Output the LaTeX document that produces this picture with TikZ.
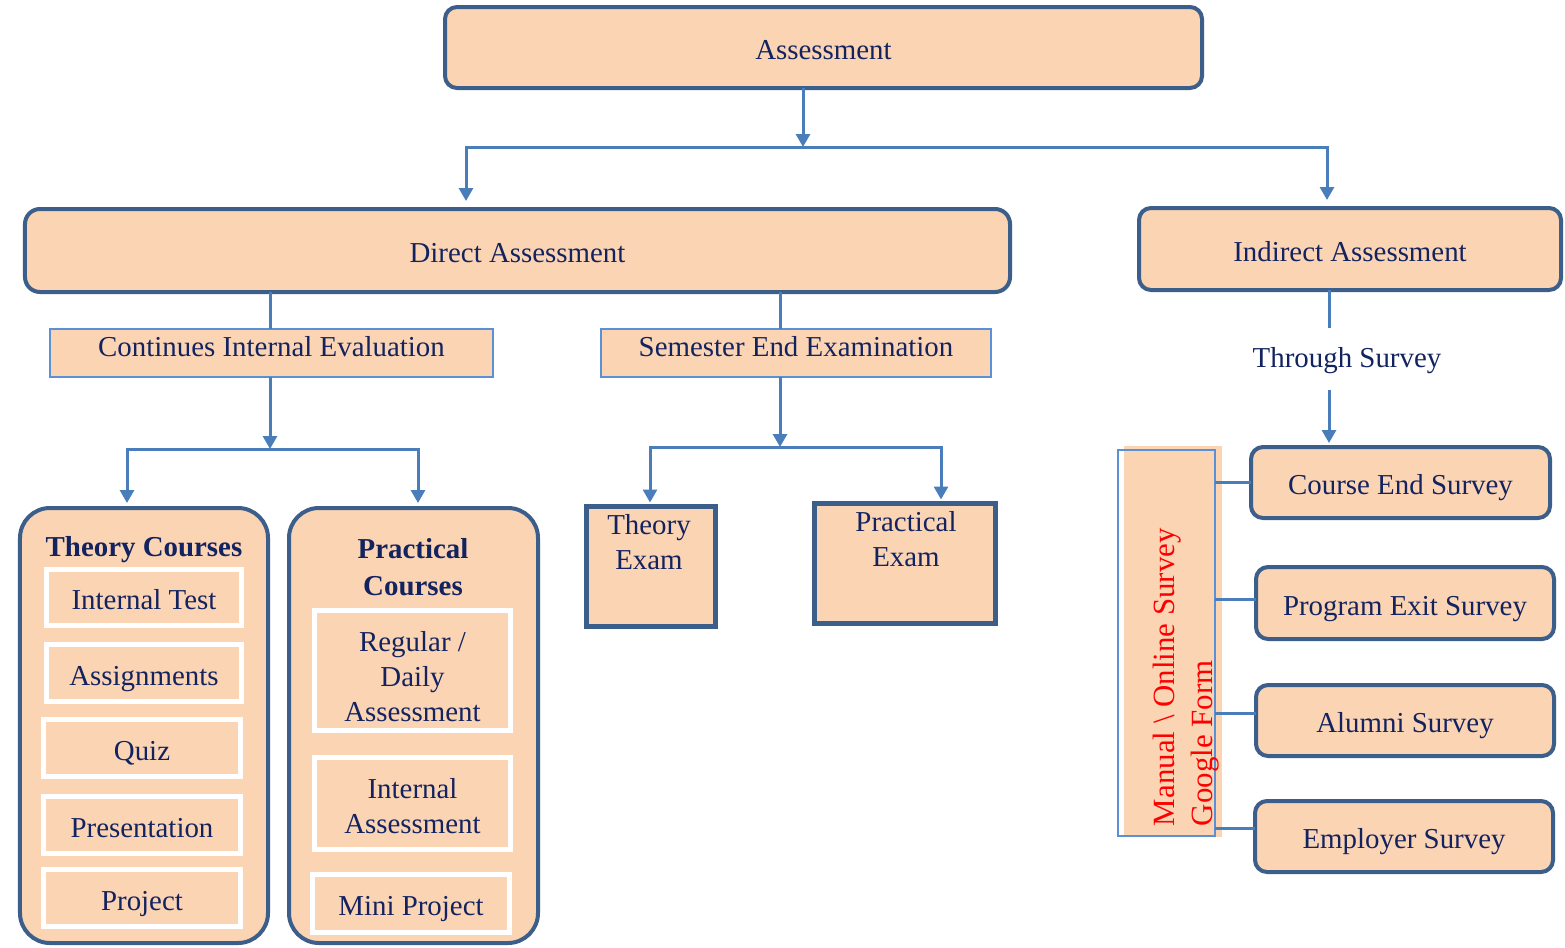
\documentclass[tikz,border=0pt]{standalone}
\usepackage{fontspec}
\setmainfont{Liberation Serif}
\usetikzlibrary{arrows.meta}
\definecolor{peach}{HTML}{FBD4B4}
\definecolor{navy}{HTML}{13235F}
\definecolor{dblue}{HTML}{3B5E8B}
\definecolor{lblue}{HTML}{4A7EBB}
\definecolor{cblue}{HTML}{5B8FD6}
\begin{document}
\begin{tikzpicture}[x=1bp,y=-1bp,
  every node/.style={font=\fontsize{29}{35}\selectfont, text=navy, inner sep=0pt, outer sep=0pt},
  tb/.style={text height=24bp, text depth=0bp},
  rbox/.style={draw=dblue, line width=4bp, fill=peach, rounded corners=12bp},
  cbox/.style={draw=cblue, line width=2bp, fill=peach, text depth=14bp},
  wbox/.style={draw=white, line width=5bp, fill=peach, align=center},
  ebox/.style={draw=dblue, line width=5bp, fill=peach},
  conn/.style={draw=lblue, line width=3bp},
  arr/.style={conn, -{Triangle[width=14bp,length=13bp]}},
  bold/.style={font=\bfseries\fontsize{29}{37}\selectfont, align=center}]
\useasboundingbox (0,0) rectangle (1565,947);

% top level
\node[rbox, tb, minimum width=757bp, minimum height=81bp] (assess) at (823.5,47.5) {Assessment};
\node[rbox, tb, rounded corners=15bp, minimum width=985bp, minimum height=83bp] (direct) at (517.5,250.5) {Direct Assessment};
\node[rbox, tb, minimum width=422bp, minimum height=82bp] (indirect) at (1350,249) {Indirect Assessment};

% second level
\node[cbox, minimum width=443bp, minimum height=48bp] (cie) at (271.5,353) {Continues Internal Evaluation};
\node[cbox, minimum width=390bp, minimum height=48bp] (see) at (796,353) {Semester End Examination};

% theory courses
\node[rbox, rounded corners=30bp, minimum width=248bp, minimum height=435bp] (thc) at (144,725.5) {};
\node[bold] (tht) at (144,550) {Theory Courses};
\node[wbox, tb, minimum width=195bp, minimum height=56bp] (it) at (144,597.5) {Internal Test};
\node[wbox, tb, minimum width=195bp, minimum height=57bp] (as) at (144,673) {Assignments};
\node[wbox, tb, minimum width=197bp, minimum height=57bp] (qz) at (142,748) {Quiz};
\node[wbox, tb, minimum width=197bp, minimum height=57bp] (pr) at (142,825) {Presentation};
\node[wbox, tb, minimum width=197bp, minimum height=57bp] (pj) at (142,898) {Project};

% practical courses
\node[rbox, rounded corners=30bp, minimum width=249bp, minimum height=435bp] (pcc) at (413.5,725.5) {};
\node[bold] (pct) at (413,567.5) {Practical\\Courses};
\node[wbox, minimum width=196bp, minimum height=120bp] (rd) at (412.5,670.5) {};
\node[align=center] (rdt) at (412.5,676.5) {Regular /\\Daily\\Assessment};
\node[wbox, minimum width=196bp, minimum height=92bp] (ias) at (412.5,803.5) {};
\node[align=center] (iast) at (412.5,806.5) {Internal\\Assessment};
\node[wbox, tb, minimum width=197bp, minimum height=58bp] (mp) at (411,903.5) {Mini Project};

% exams
\node[ebox, minimum width=129bp, minimum height=120bp] (te) at (651,566.5) {};
\node[align=center] (tet) at (649,542) {Theory\\Exam};
\node[ebox, minimum width=181bp, minimum height=120bp] (pe) at (905,563.5) {};
\node[align=center] (pet) at (906,539) {Practical\\Exam};

% indirect branch
\node (ts) at (1347,361) {Through Survey};
\fill[peach] (1124,446) rectangle (1222,837);
\node[draw=cblue, line width=2bp, minimum width=97bp, minimum height=386bp] (man) at (1166.5,643) {};
\node[rotate=90, anchor=south west, align=left, text=red, font=\fontsize{31}{38}\selectfont] (mt) at (1219,826) {Manual \textbackslash\ Online Survey\\Google Form};

\node[rbox, tb, minimum width=299bp, minimum height=71bp] (ces) at (1400.5,482.5) {Course End Survey};
\node[rbox, tb, minimum width=298bp, minimum height=72bp] (pes) at (1405,603) {Program Exit Survey};
\node[rbox, tb, minimum width=298bp, minimum height=71bp] (als) at (1405,720.5) {Alumni Survey};
\node[rbox, tb, minimum width=298bp, minimum height=71bp] (ems) at (1404,836.5) {Employer Survey};

% connectors: top
\coordinate (j1) at (803,147);
\coordinate (hL) at (466,147);
\coordinate (hR) at (1327,147);
\draw[arr] (assess.south -| j1) -- (j1);
\draw[conn, line cap=rect] (hL) -- (hR);
\draw[arr, shorten >=8bp] (hL) -- (hL |- direct.north);
\draw[arr, shorten >=8bp] (hR) -- (hR |- indirect.north);

% direct -> CIE
\coordinate (cj) at (270,449);
\coordinate (cL) at (127,449);
\coordinate (cR) at (418,449);
\draw[conn] (cj |- direct.south) -- (cj |- cie.north);
\draw[arr] (cj |- cie.south) -- (cj);
\draw[conn, line cap=rect] (cL) -- (cR);
\draw[arr, shorten >=5bp] (cL) -- (cL |- thc.north);
\draw[arr, shorten >=5bp] (cR) -- (cR |- pcc.north);

% direct -> SEE
\coordinate (sj) at (780,447);
\coordinate (sL) at (650,447);
\coordinate (sR) at (941,447);
\draw[conn] (sj |- direct.south) -- (sj |- see.north);
\draw[arr] (sj |- see.south) -- (sj);
\draw[conn, line cap=rect] (sL) -- (sR);
\draw[arr, shorten >=4bp] (sL) -- (sL |- te.north);
\draw[arr, shorten >=4bp] (sR) -- (sR |- pe.north);

% indirect
\coordinate (ij1) at (1329,328);
\coordinate (ij2) at (1329,390);
\draw[conn] (ij1 |- indirect.south) -- (ij1);
\draw[arr, shorten >=4bp] (ij2) -- (ij2 |- ces.north);

% survey links
\path ([yshift=0bp]ces.west) coordinate (k1);
\path ([yshift=4bp]pes.west) coordinate (k2);
\path ([yshift=7bp]als.west) coordinate (k3);
\path ([yshift=8bp]ems.west) coordinate (k4);
\draw[conn] (k1 -| man.east) -- (k1);
\draw[conn] (k2 -| man.east) -- (k2);
\draw[conn] (k3 -| man.east) -- (k3);
\draw[conn] (k4 -| man.east) -- (k4);
\end{tikzpicture}
\end{document}
